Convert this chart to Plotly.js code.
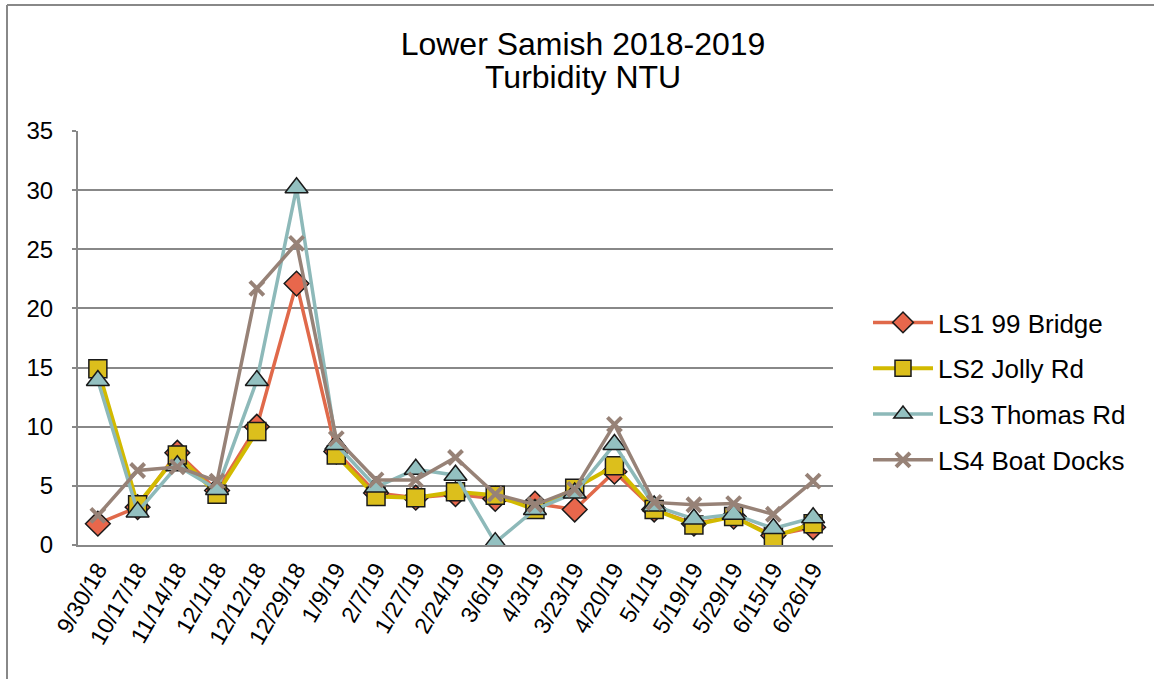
<!DOCTYPE html>
<html>
<head>
<meta charset="utf-8">
<script src="https://cdn.plot.ly/plotly-3.0.1.min.js"></script>
<style>html,body{margin:0;padding:0;background:#fff;}#chart{width:1154px;height:679px;}</style>
</head>
<body>
<div id="chart"></div>
<script>
const dates = ["9/30/18","10/17/18","11/14/18","12/1/18","12/12/18","12/29/18","1/9/19","2/7/19","1/27/19","2/24/19","3/6/19","4/3/19","3/23/19","4/20/19","5/1/19","5/19/19","5/29/19","6/15/19","6/26/19"];
const ls1 = [1.8, 3.2, 7.8, 4.6, 10.0, 22.1, 7.9, 4.4, 4.0, 4.3, 3.9, 3.5, 3.0, 6.2, 3.0, 1.8, 2.4, 0.8, 1.5];
const ls2 = [14.9, 3.4, 7.6, 4.3, 9.6, null, 7.6, 4.1, 4.0, 4.5, 4.2, 3.0, 4.8, 6.7, 3.0, 1.7, 2.4, 0.7, 1.8];
const ls3 = [13.9, 2.8, 6.7, 4.7, 13.9, 30.2, 8.5, 4.9, 6.4, 5.9, 0.2, 3.0, 4.4, 8.5, 3.3, 2.2, 2.6, 1.4, 2.3];
const ls4 = [2.5, 6.3, 6.6, 5.4, 21.7, 25.5, 9.0, 5.5, 5.5, 7.4, 4.3, 3.4, 4.7, 10.2, 3.6, 3.4, 3.5, 2.6, 5.4];
const names = ["LS1 99 Bridge","LS2 Jolly Rd","LS3 Thomas Rd","LS4 Boat Docks"];
const titleLines = ["Lower Samish 2018-2019", "Turbidity NTU"];

const FONT = "Liberation Sans, Arial, sans-serif";
const traces = [
  {x: dates, y: ls1, name: names[0], legendgroup: "a", mode: "lines+markers",
   line: {color: "#E0694A", width: 3.5},
   marker: {symbol: "diamond", size: 19, color: "#E8674C", line: {color: "#1a1a1a", width: 1.5}}},
  {x: dates, y: ls2, name: names[1], legendgroup: "b", mode: "lines+markers",
   line: {color: "#D2BA00", width: 4},
   marker: {symbol: "square", size: 18, color: "#DCBF1C", line: {color: "#1a1a1a", width: 1.5}}},
  {x: dates, y: ls3, name: names[2], legendgroup: "c", mode: "lines+markers",
   line: {color: "#8DB9B9", width: 3.5},
   marker: {symbol: "triangle-up", size: 20, color: "#93C0C0", line: {color: "#1a1a1a", width: 1.5}}},
  {x: dates, y: ls4, name: names[3], legendgroup: "d", mode: "lines+markers",
   line: {color: "#978277", width: 3.5},
   marker: {symbol: "x-thin", size: 14, color: "#978277", line: {color: "#978277", width: 4}}}
];

const L = 78, R = 833, T = 131, B = 545, W = 1154, H = 679;
const px2x = p => (p - L) / (R - L);
const px2y = p => (B - p) / (B - T);

const layout = {
  width: W, height: H,
  margin: {l: L, r: W - R, t: T, b: H - B, pad: 0},
  paper_bgcolor: "#fff", plot_bgcolor: "#fff",
  font: {family: FONT, color: "#000", size: 20},
  title: {text: titleLines[0], font: {family: FONT, size: 32, color: "#000"},
          x: 583 / W, xref: "container", xanchor: "center", y: 1 - 44 / H, yref: "container", yanchor: "middle"},
  annotations: [
    {text: titleLines[1], xref: "paper", yref: "paper", x: px2x(583), y: px2y(77),
     xanchor: "center", yanchor: "middle", showarrow: false, font: {family: FONT, size: 32, color: "#000"}}
  ],
  xaxis: {type: "category", range: [-0.5, 18.5], showgrid: false, zeroline: false,
          showline: true, linecolor: "#888", linewidth: 2, ticks: "",
          tickangle: -60, tickfont: {family: FONT, size: 23, color: "#000"}, automargin: false},
  yaxis: {range: [0, 35], dtick: 5, showgrid: true, gridcolor: "#888", gridwidth: 2,
          zeroline: false, showline: true, linecolor: "#888", linewidth: 2,
          ticks: "outside", ticklen: 4, tickcolor: "#888", tickwidth: 2, ticklabelstandoff: 14,
          tickfont: {family: FONT, size: 24, color: "#000"}, automargin: false},
  legend: {x: px2x(868), y: px2y(299), xanchor: "left", yanchor: "top",
           font: {family: FONT, size: 26, color: "#000"}, traceorder: "grouped",
           tracegroupgap: 9, itemwidth: 60, bgcolor: "rgba(0,0,0,0)"},
  showlegend: true,
  shapes: [
    {type: "line", xref: "paper", yref: "paper", x0: px2x(7), x1: px2x(7), y0: px2y(H + 2), y1: px2y(5),
     line: {color: "#888", width: 2}},
    {type: "line", xref: "paper", yref: "paper", x0: px2x(7), x1: px2x(W + 2), y0: px2y(5), y1: px2y(5),
     line: {color: "#888", width: 2}}
  ]
};

Plotly.newPlot("chart", traces, layout, {displayModeBar: false, staticPlot: true});
</script>
</body>
</html>
